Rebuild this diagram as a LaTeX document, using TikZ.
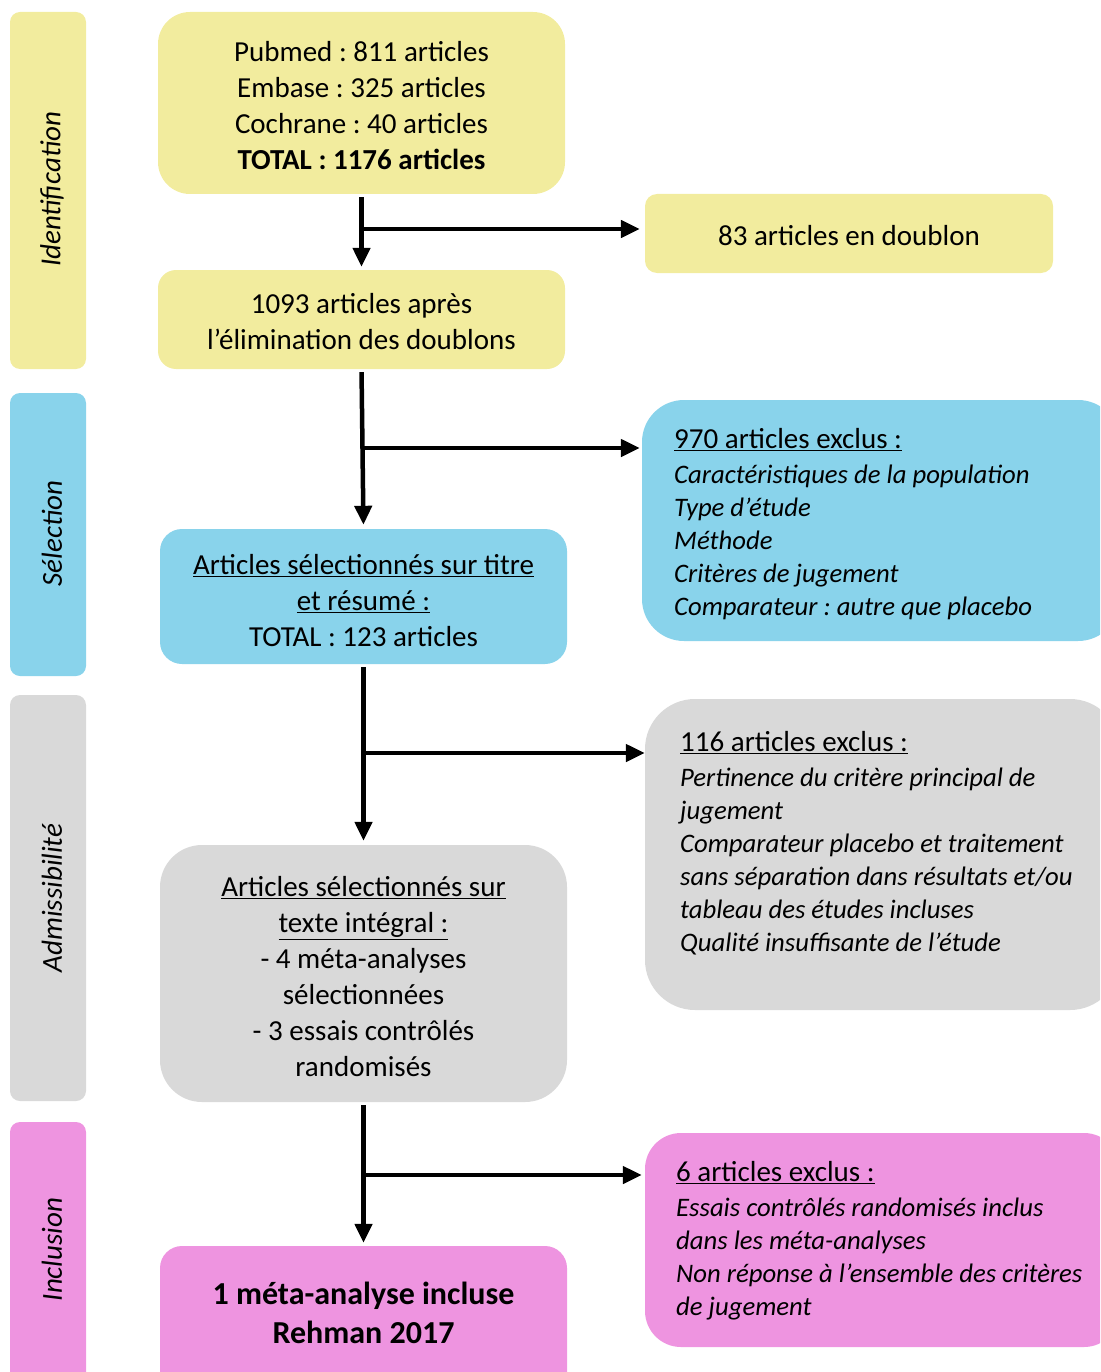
\documentclass[tikz,border=0pt]{standalone}
\usepackage{fontspec}
\setmainfont{Carlito}
\usetikzlibrary{arrows.meta}
\definecolor{cyel}{RGB}{242,236,158}
\definecolor{cblue}{RGB}{137,211,235}
\definecolor{cgray}{RGB}{217,217,217}
\definecolor{cpink}{RGB}{238,148,224}
\frenchspacing
\begin{document}
\begin{tikzpicture}[x=1pt,y=-1pt,
  sidebar/.style={rectangle, rounded corners=10pt, minimum width=76pt, inner sep=0pt},
  sidelabel/.style={rotate=90, inner sep=0pt, font=\fontsize{29}{36}\selectfont\itshape},
  mbox/.style={rectangle, minimum width=407pt, inner sep=0pt},
  mtext/.style={align=center, inner sep=0pt, font=\fontsize{29}{36}\selectfont},
  rbox/.style={rectangle, inner sep=0pt},
  rtext/.style={anchor=west, align=left, inner sep=0pt, font=\fontsize{26.7}{33}\selectfont\itshape},
  rhead/.style={},
  arr/.style={line width=4.5pt, -{Triangle[width=17pt,length=19pt]}}
]
\useasboundingbox (0,0) rectangle (1100,1372);
\clip (0,0) rectangle (1100,1372);

% side bars
\node[sidebar, fill=cyel,  minimum height=357pt] (s1) at (48,190.5) {};
\node[sidebar, fill=cblue, minimum height=283pt] (s2) at (48,534.5) {};
\node[sidebar, fill=cgray, minimum height=406pt] (s3) at (48,898) {};
\node[sidebar, fill=cpink, minimum height=263pt] (s4) at (48,1253.5) {};
\node[sidelabel] (s1t) at ([xshift=4pt,yshift=1pt]s1.center) {Identification};
\node[sidelabel] (s2t) at ([xshift=4pt,yshift=1pt]s2.center) {Sélection};
\node[sidelabel] (s3t) at ([xshift=4pt]s3.center) {Admissibilité};
\node[sidelabel] (s4t) at ([xshift=4pt,yshift=4pt]s4.center) {Inclusion};

% main boxes
\node[mbox, fill=cyel, rounded corners=32pt, minimum height=182pt] (b1) at (361.5,103) {};
\node[mbox, fill=cyel, rounded corners=18pt, minimum height=99pt] (b2) at (361.5,319.5) {};
\node[mbox, fill=cblue, rounded corners=22pt, minimum height=135pt] (b3) at (363.5,596.5) {};
\node[mbox, fill=cgray, rounded corners=42pt, minimum height=257pt] (b4) at (363.5,973.5) {};
\node[mbox, fill=cpink, rounded corners=22pt, minimum height=150pt] (b5) at (363.5,1321) {};

\node[mtext] (b1t) at ([yshift=-3pt]b1.center)
  {Pubmed : 811 articles\\ Embase : 325 articles\\ Cochrane : 40 articles\\ \textbf{TOTAL : 1176 articles}};
\node[mtext] (b2t) at ([yshift=-2pt]b2.center)
  {1093 articles après\\ l’élimination des doublons};
\node[mtext] (b3t) at ([yshift=-4pt]b3.center)
  {\underline{Articles sélectionnés sur titre}\\ \underline{et résumé :}\\ TOTAL : 123 articles};
\node[mtext] (b4t) at ([yshift=-3pt]b4.center)
  {\underline{Articles sélectionnés sur}\\ \underline{texte intégral :}\\ - 4 méta-analyses\\ sélectionnées\\ - 3 essais contrôlés\\ randomisés};
\node[align=center, inner sep=0pt, font=\fontsize{32}{39}\selectfont\bfseries] (b5t) at (363.5,1313)
  {1 méta-analyse incluse\\ Rehman 2017};

% right boxes
\node[rbox, fill=cyel, rounded corners=12pt, minimum width=408pt, minimum height=79pt] (r1) at (849,233.5) {};
\node[mtext] (r1t) at ([yshift=-2pt]r1.center) {83 articles en doublon};
\node[rbox, fill=cblue, rounded corners=42pt, minimum width=478pt, minimum height=241pt] (r2) at (881,520.5) {};
\node[rbox, fill=cgray, rounded corners=50pt, minimum width=475pt, minimum height=311pt] (r3) at (882.5,854.5) {};
\node[rbox, fill=cpink, rounded corners=36pt, minimum width=475pt, minimum height=214pt] (r4) at (882.5,1240) {};

\node[rtext] (r2t) at (674,524)
  {{\fontsize{29}{33}\selectfont\upshape\underline{970 articles exclus :}}\\[2pt] Caractéristiques de la population\\ Type d’étude\\ Méthode\\ Critères de jugement\\ Comparateur : autre que placebo};
\node[rtext] (r3t) at (680,843)
  {{\fontsize{29}{33}\selectfont\upshape\underline{116 articles exclus :}}\\[2pt] Pertinence du critère principal de\\ jugement\\ Comparateur placebo et traitement\\ sans séparation dans résultats et/ou\\ tableau des études incluses\\ Qualité insuffisante de l’étude};
\node[rtext] (r4t) at (676,1241)
  {{\fontsize{29}{33}\selectfont\upshape\underline{6 articles exclus :}}\\[2pt] Essais contrôlés randomisés inclus\\ dans les méta-analyses\\ Non réponse à l’ensemble des critères\\ de jugement};

% junctions
\coordinate (j1) at (361.5,229);
\coordinate (j2) at (362,448);
\coordinate (j3) at (363.5,753);
\coordinate (j4) at (363.5,1175);

% arrows
\draw[arr, shorten <=3pt, shorten >=3pt] (b1.south) -- (b2.north);
\draw[arr, shorten >=5pt] (j1) -- (j1 -| r1.west);
\draw[arr, shorten <=3pt, shorten >=4pt] (b2.south) -- (b3.north);
\draw[arr, shorten >=2pt] (j2) -- (j2 -| r2.west);
\draw[arr, shorten <=3pt, shorten >=4pt] (b3.south) -- (b4.north);
\draw[arr, shorten >=0pt] (j3) -- (j3 -| r3.west);
\draw[arr, shorten <=3pt, shorten >=3pt] (b4.south) -- (b5.north);
\draw[arr, shorten >=3pt] (j4) -- (j4 -| r4.west);
\end{tikzpicture}
\end{document}
